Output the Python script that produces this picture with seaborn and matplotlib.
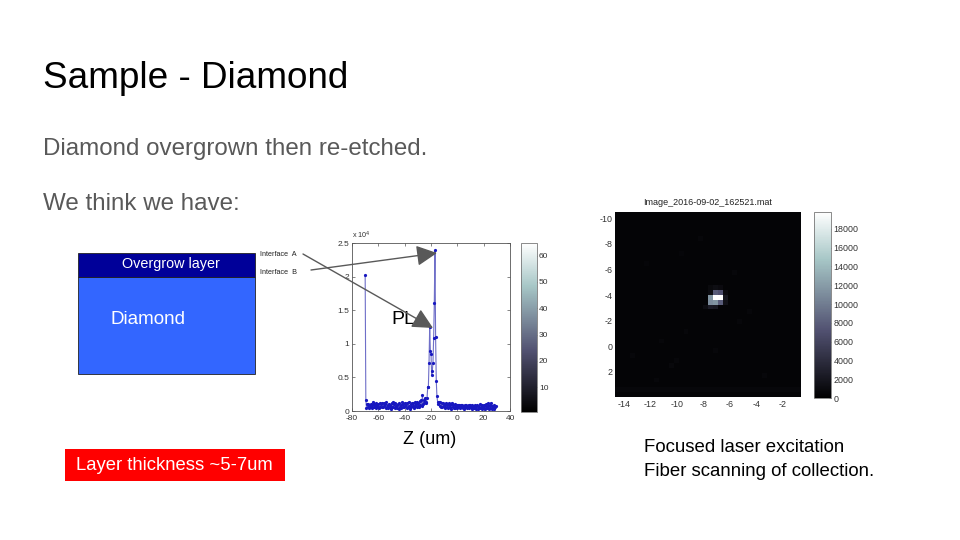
import numpy as np
import matplotlib
matplotlib.use("Agg")
import matplotlib.pyplot as plt
from matplotlib.patches import Rectangle
import seaborn as sns

# PL scan along Z, one reading every 0.5 um starting at -70 um
pl_counts = [
    20200, 1700, 450, 1000, 600, 1050, 450, 950, 650, 1000, 500, 900, 1350, 550, 1000, 700,
    1150, 500, 900, 600, 1100, 450, 1200, 650, 1050, 550, 1150, 600, 1250, 700, 1000, 450,
    1300, 550, 950, 400, 1100, 600, 900, 350, 1200, 650, 1350, 550, 1000, 500, 1150, 700,
    900, 450, 1050, 350, 1200, 600, 950, 500, 1300, 650, 1100, 550, 1250, 750, 1000, 400,
    1150, 600, 1350, 700, 350, 1050, 550, 1250, 750, 1150, 500, 1300, 700, 1100, 650, 1400,
    800, 1200, 650, 1500, 850, 1650, 750, 2400, 1000, 1650, 1150, 1900, 1250, 1400,
    2000, 3500, 3600, 7200, 12500, 9000, 8500, 5400, 6000, 7200, 10800, 16000, 23900,
    11000, 4500, 2200, 1400, 1050, 1300, 800, 1300, 650, 1150, 550, 1250, 700, 1100, 450,
    950, 1200, 600, 1050, 400, 900, 1150, 550, 1000, 350, 1250, 650, 950, 500, 1050, 400,
    800, 950, 450, 850, 550, 900, 400, 950, 600, 850, 500, 800, 350, 900, 550, 850, 450,
    800, 600, 950, 400, 850, 550, 800, 350, 900, 500, 750, 400, 950, 300, 700, 850, 350,
    750, 500, 1000, 400, 650, 850, 300, 750, 450, 900, 350, 700, 1000, 400, 800, 1150, 350,
    950, 500, 1250, 300, 750, 450, 850, 250, 600, 800,
]
pl_xticks = [-80, -60, -40, -20, 0, 20, 40]
pl_yticks = [0, 5000, 10000, 15000, 20000, 25000]
pl_ylabels = ["0", "0.5", "1", "1.5", "2", "2.5"]
cbar1_ticks = [10, 20, 30, 40, 50, 60]

# fiber scan image, mostly flat background with a small bright spot
image_size = 38
background_counts = 420
edge_row_counts = 680
spot_rows = [17, 17, 17, 16, 16, 18, 18, 18, 15, 15, 15, 19, 19, 19, 17, 18, 16, 16,
             24, 30, 31, 28, 10, 12, 5, 22, 26, 33, 34, 8, 20, 29]
spot_cols = [21, 20, 19, 20, 21, 19, 20, 21, 19, 20, 21, 18, 19, 20, 22, 22, 19, 22,
             14, 12, 11, 20, 6, 24, 17, 25, 9, 30, 8, 13, 27, 3]
spot_counts = [19800, 19800, 11500, 7800, 7000, 11000, 11500, 8000, 900, 1300, 1000,
               1100, 2400, 2100, 2000, 1500, 1100, 1000,
               640, 660, 700, 620, 600, 640, 620, 650, 620, 640, 620, 600, 640, 620]
scan_xticks = [-14, -12, -10, -8, -6, -4, -2]
scan_yticks = [-10, -8, -6, -4, -2, 0, 2]
scan_xlim = [-14.68, -0.64]
scan_ylim = [-10.47, 3.95]
cbar2_ticks = [0, 2000, 4000, 6000, 8000, 10000, 12000, 14000, 16000, 18000]

title = "Sample - Diamond"
body_lines = ["Diamond overgrown then re-etched.", "We think we have:"]
caption_lines = ["Focused laser excitation", "Fiber scanning of collection."]

FIG_W, FIG_H = 960, 540
TICK_COLOR = "#333333"


def px_axes(fig, left, top, right, bottom, **kw):
    return fig.add_axes([left / FIG_W, 1 - bottom / FIG_H, (right - left) / FIG_W, (bottom - top) / FIG_H], **kw)


def thin_frame(ax, color="#555555"):
    for s in ax.spines.values():
        s.set_visible(True)
        s.set_linewidth(0.6)
        s.set_color(color)


sns.set_theme(style="white")
plt.rcParams["font.family"] = ["Liberation Sans", "DejaVu Sans"]
plt.rcParams["axes.unicode_minus"] = False

fig = plt.figure(figsize=(FIG_W / 100, FIG_H / 100), dpi=100, facecolor="white")

# PL line plot
ax_pl = px_axes(fig, 352, 243, 510, 411)
z_um = np.arange(len(pl_counts)) * 0.5 - 70
sns.lineplot(x=z_um, y=pl_counts, color="#6f6fc8", linewidth=0.8, marker="o", markersize=2.3,
             markerfacecolor="#1818c0", markeredgecolor="#1818c0", markeredgewidth=0, ax=ax_pl)
ax_pl.set_xlim(-80, 40)
ax_pl.set_ylim(0, 25000)
ax_pl.set_xticks(pl_xticks)
ax_pl.set_yticks(pl_yticks, pl_ylabels)
ax_pl.tick_params(direction="in", length=2, width=0.5, color="#555555", labelsize=6,
                  labelcolor=TICK_COLOR, top=True, right=True, bottom=True, left=True)
ax_pl.tick_params(axis="x", pad=3)
ax_pl.tick_params(axis="y", pad=2)
thin_frame(ax_pl)
ax_pl.text(0, 1.01, "x 10$^{4}$", transform=ax_pl.transAxes, fontsize=5.2, color=TICK_COLOR, va="bottom")

# colorbar next to the PL plot
cax1 = px_axes(fig, 521, 243, 537, 412)
pl_norm = plt.Normalize(0.6, 64.8)
cb1 = fig.colorbar(plt.cm.ScalarMappable(norm=pl_norm, cmap="bone"), cax=cax1)
cb1.set_ticks(cbar1_ticks)
cb1.ax.tick_params(direction="in", length=1.5, width=0.5, labelsize=6, labelcolor=TICK_COLOR, pad=1.5, color="#555555", right=True)
cb1.outline.set_linewidth(0.6)
cb1.outline.set_edgecolor("#777777")

# fiber scan image
grid = np.full((image_size, image_size), float(background_counts))
grid[36, :] = edge_row_counts
grid[spot_rows, spot_cols] = spot_counts

ax_scan = px_axes(fig, 615, 212, 801, 397)
cax2 = px_axes(fig, 814, 212, 831, 398)
sns.heatmap(grid, cmap="bone", vmin=0, vmax=19800, ax=ax_scan, cbar_ax=cax2, xticklabels=False, yticklabels=False)
x_per_cell = (scan_xlim[1] - scan_xlim[0]) / image_size
y_per_cell = (scan_ylim[1] - scan_ylim[0]) / image_size
ax_scan.set_xticks([(v - scan_xlim[0]) / x_per_cell for v in scan_xticks], scan_xticks)
ax_scan.set_yticks([(v - scan_ylim[0]) / y_per_cell for v in scan_yticks], scan_yticks, rotation=0)
ax_scan.tick_params(length=0, labelsize=6.4, labelcolor=TICK_COLOR, bottom=True, left=True)
ax_scan.tick_params(axis="x", pad=2.5)
ax_scan.tick_params(axis="y", pad=1.5)
ax_scan.set_title("Image_2016-09-02_162521.mat", fontsize=6.5, color="#222222", pad=5)
cb2 = ax_scan.collections[0].colorbar
cb2.set_ticks(cbar2_ticks)
cb2.ax.tick_params(direction="in", length=1.5, width=0.5, labelsize=6.4, labelcolor=TICK_COLOR, pad=2, color="#555555", right=True)
cb2.outline.set_visible(True)
cb2.outline.set_linewidth(0.6)
cb2.outline.set_edgecolor("#777777")

# slide layer in pixel coordinates, above the plots so the arrows cross them
slide = fig.add_axes([0, 0, 1, 1], zorder=5)
slide.set_xlim(0, FIG_W)
slide.set_ylim(FIG_H, 0)
slide.axis("off")
slide.patch.set_alpha(0)

slide.text(43, 79, title, fontsize=26.6, color="black", va="center")
slide.text(43, 149.5, body_lines[0], fontsize=17.4, color="#595959", va="center")
slide.text(43, 203.5, body_lines[1], fontsize=17.4, color="#595959", va="center")

slide.add_patch(Rectangle((78, 277), 177, 97, facecolor="#3366ff", edgecolor="#222222", linewidth=0.6))
slide.add_patch(Rectangle((78, 253), 177, 24, facecolor="#000099", edgecolor="#222222", linewidth=0.6))
slide.text(171, 264, "Overgrow layer", fontsize=10.4, color="white", ha="center", va="center")
slide.text(148, 320, "Diamond", fontsize=13.6, color="white", ha="center", va="center")

slide.add_patch(Rectangle((65, 449), 220, 32, facecolor="#ff0000", edgecolor="none"))
slide.text(174, 466, "Layer thickness ~5-7um", fontsize=13.3, color="white", ha="center", va="center")

slide.text(260, 254, "Interface  A", fontsize=5.2, color="#222222", va="center")
slide.text(260, 272, "Interface  B", fontsize=5.2, color="#222222", va="center")
slide.text(391, 319, "PL", fontsize=14, color="black", va="center")
slide.text(430, 440, "Z (um)", fontsize=13, color="black", ha="center", va="center")
slide.text(644, 448, caption_lines[0], fontsize=13.4, color="black", va="center")
slide.text(644, 471, caption_lines[1], fontsize=13.4, color="black", va="center")

arrow_style = dict(arrowstyle="-|>,head_length=0.9,head_width=0.45", color="#595959", linewidth=1, mutation_scale=14,
                   shrinkA=0, shrinkB=0)
slide.annotate("", xy=(433, 328), xytext=(303, 254), arrowprops=arrow_style)
slide.annotate("", xy=(437, 253), xytext=(311, 270), arrowprops=arrow_style)

fig.savefig("out.png", dpi=100)
